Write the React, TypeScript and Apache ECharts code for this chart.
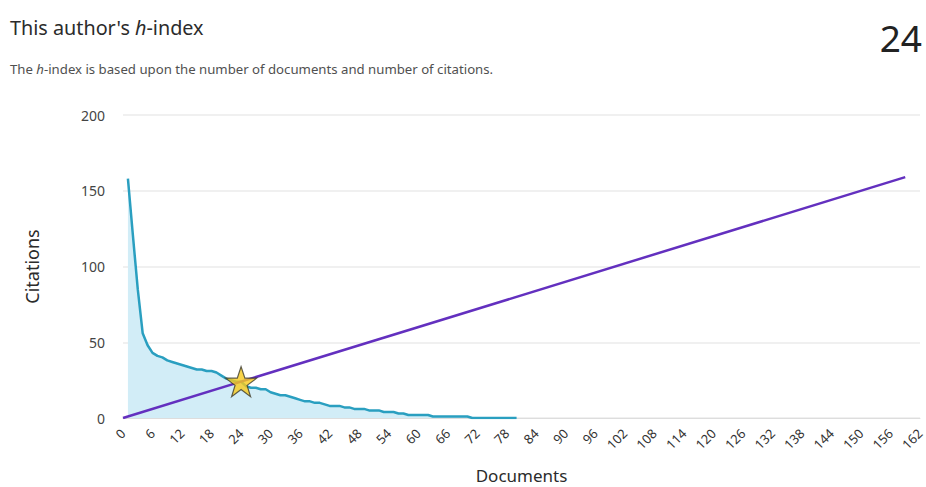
import React, { useEffect, useRef } from "react";
import * as echarts from "echarts";

const FONT = "'Noto Sans', sans-serif";

const titleText = "This author's ";
const titleItalic = "h";
const titleRest = "-index";
const subtitleStart = "The ";
const subtitleItalic = "h";
const subtitleRest = "-index is based upon the number of documents and number of citations.";
const hIndexValue = "24";
const xAxisName = "Documents";
const yAxisName = "Citations";

// Citations per document (documents ranked by citations, 1..80)
const citations: number[] = [
  158, 121, 85, 56, 48, 43, 41, 40, 38, 37,
  36, 35, 34, 33, 32, 32, 31, 31, 30, 28,
  26, 25, 24, 24, 21, 20, 20, 19, 19, 17,
  16, 15, 15, 14, 13, 12, 11, 11, 10, 10,
  9, 8, 8, 8, 7, 7, 6, 6, 6, 5,
  5, 5, 4, 4, 4, 3, 3, 2, 2, 2,
  2, 2, 1, 1, 1, 1, 1, 1, 1, 1,
  0, 0, 0, 0, 0, 0, 0, 0, 0, 0,
];
const totalDocuments = 159;
const hIndex = 24;

const xMin = 0;
const xMax = 162;
const xInterval = 6;
const yMin = 0;
const yMax = 200;
const yInterval = 50;

const STAR =
  "path://M50,0 L61.8,35.1 L98.1,35.1 L68.7,56.8 L79.4,91.0 L50,69.5 L20.6,91.0 L31.3,56.8 L1.9,35.1 L38.2,35.1 Z";

export default function App() {
  const ref = useRef<HTMLDivElement>(null);

  useEffect(() => {
    document.body.style.margin = "0";
    if (!ref.current) return;
    const chart = echarts.init(ref.current, null, { renderer: "svg" });

    const curveData = citations.map((c, i) => [i + 1, c]);
    const lineData = [
      [0, 0],
      [totalDocuments, totalDocuments],
    ];

    const txt = (size: number, color: string, italic: boolean, lh: number) => ({
      fontSize: size,
      color,
      fontFamily: FONT,
      fontWeight: "normal",
      fontStyle: italic ? "italic" : "normal",
      lineHeight: lh,
    });

    chart.setOption({
      animation: false,
      backgroundColor: "#ffffff",
      textStyle: { fontFamily: FONT },
      title: [
        {
          text: `{a|${titleText}}{b|${titleItalic}}{a|${titleRest}}`,
          left: 10,
          top: 13,
          padding: 0,
          textStyle: {
            fontWeight: "normal",
            rich: {
              a: txt(19.8, "#2b2b2b", false, 28),
              b: txt(19.8, "#2b2b2b", true, 28),
            },
          },
        },
        {
          text: `{a|${subtitleStart}}{b|${subtitleItalic}}{a|${subtitleRest}}`,
          left: 10,
          top: 60,
          padding: 0,
          textStyle: {
            fontWeight: "normal",
            rich: {
              a: txt(13.2, "#505050", false, 18),
              b: txt(13.2, "#505050", true, 18),
            },
          },
        },
        {
          text: hIndexValue,
          right: 4,
          top: 15,
          padding: 0,
          textStyle: { fontSize: 37, color: "#222222", fontWeight: "normal", fontFamily: FONT, lineHeight: 44 },
        },
      ],
      grid: {
        left: 123,
        right: 6,
        top: 115,
        bottom: 69,
        outerBoundsMode: "none",
      },
      xAxis: {
        type: "value",
        min: xMin,
        max: xMax,
        interval: xInterval,
        name: xAxisName,
        nameLocation: "middle",
        nameGap: 49,
        nameTextStyle: { fontSize: 17, lineHeight: 17, color: "#2b2b2b", fontFamily: FONT },
        axisLine: { show: true, lineStyle: { color: "#dddddd", width: 1 } },
        axisTick: { show: false },
        splitLine: { show: false },
        axisLabel: {
          rotate: 45,
          fontSize: 13,
          color: "#333333",
          margin: 13,
          fontFamily: FONT,
          showMaxLabel: true,
          showMinLabel: true,
        },
      },
      yAxis: {
        type: "value",
        min: yMin,
        max: yMax,
        interval: yInterval,
        name: yAxisName,
        nameLocation: "middle",
        nameGap: 82,
        nameRotate: 90,
        nameTextStyle: { fontSize: 18, color: "#2b2b2b", fontFamily: FONT },
        axisLine: { show: false },
        axisTick: { show: false },
        splitLine: { show: true, lineStyle: { color: "#ebebeb", width: 1.5 } },
        axisLabel: { fontSize: 14, color: "#444444", margin: 18, fontFamily: FONT },
      },
      series: [
        {
          type: "line",
          data: curveData,
          symbol: "none",
          lineStyle: { color: "#2a9fc0", width: 2.5 },
          areaStyle: { color: "#d2edf7", opacity: 1 },
          z: 2,
        },
        {
          type: "line",
          data: lineData,
          symbol: "none",
          lineStyle: { color: "#6330bf", width: 2.5 },
          z: 3,
        },
        {
          type: "scatter",
          data: [[hIndex, hIndex]],
          symbol: STAR,
          symbolSize: [31, 30],
          itemStyle: { color: "#f8c91c", borderColor: "#3b3a2c", borderWidth: 1.2 },
          z: 4,
        },
      ],
    });

    return () => chart.dispose();
  }, []);

  return <div ref={ref} style={{ width: 926, height: 487 }} />;
}
